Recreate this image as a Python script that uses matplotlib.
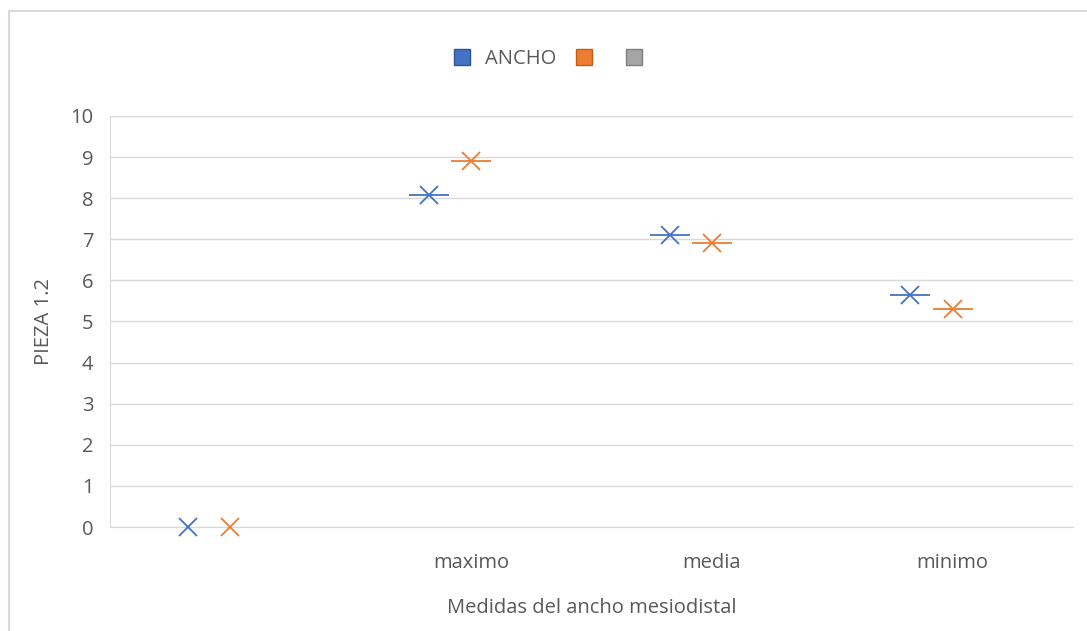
import numpy as np
import matplotlib
matplotlib.use("Agg")
import matplotlib.pyplot as plt
from matplotlib.patches import Patch, Rectangle

plt.rcParams['font.family'] = ['Open Sans', 'DejaVu Sans']

# ---- Data ----
categories = ["", "maximo", "media", "minimo"]
series_names = ["ANCHO", "", ""]
ancho = [0.0, 8.08, 7.10, 5.64]
serie2 = [0.0, 8.90, 6.91, 5.30]
serie3 = [np.nan, np.nan, np.nan, np.nan]

colors = ['#4472C4', '#ED7D31', '#A5A5A5']
edges = ['#2F5597', '#C55A11', '#7F7F7F']
offsets = [-0.175, 0.0, 0.175]
TXT = '#595959'
FS = 14.5

fig = plt.figure(figsize=(10.87, 6.31), dpi=100)
ax = fig.add_axes([0.1012, 0.1648, 0.8859, 0.6514])

# outer chart frame (only left/top visible in the crop)
fig.patches.append(Rectangle((9 / 1087, -0.1), 1.2, 1 - 11 / 631 + 0.1,
                             transform=fig.transFigure, fill=False,
                             edgecolor='#d9d9d9', linewidth=1.5))

x = np.arange(len(categories))
for vals, c, off in zip([ancho, serie2, serie3], colors, offsets):
    xs = x + off
    v = np.array(vals, dtype=float)
    ax.plot(xs, v, linestyle='none', marker='x', markersize=13,
            markeredgewidth=1.3, color=c, zorder=3, clip_on=False)
    # the horizontal dash does not show for zero values in the original
    dash = np.where(v > 0, v, np.nan)
    ax.plot(xs, dash, linestyle='none', marker='_', markersize=29,
            markeredgewidth=1.3, color=c, zorder=3, clip_on=False)

ax.set_xlim(-0.5, len(categories) - 0.5)
ax.set_ylim(0, 10)
ax.set_yticks(range(0, 11))
ax.set_xticks(x)
ax.set_xticklabels(categories)
ax.tick_params(axis='both', length=0, colors=TXT, labelsize=FS)
ax.tick_params(axis='x', pad=19)
ax.tick_params(axis='y', pad=12)
ax.grid(axis='y', color='#d9d9d9', linewidth=1)
ax.set_axisbelow(True)
for s in ['top', 'right']:
    ax.spines[s].set_visible(False)
ax.spines['left'].set_color('#d9d9d9')
ax.spines['bottom'].set_color('#d9d9d9')

ax.set_ylabel("PIEZA 1.2", color=TXT, fontsize=FS, labelpad=12)
ax.set_xlabel("Medidas del ancho mesiodistal", color=TXT, fontsize=FS, labelpad=18)

handles = [Patch(facecolor=c, edgecolor=e) for c, e in zip(colors, edges)]
fig.legend(handles, series_names, loc='center', bbox_to_anchor=(0.511, 1 - 59 / 631),
           ncol=3, frameon=False, fontsize=FS, labelcolor=TXT,
           handlelength=0.8, handleheight=0.8, handletextpad=0.7,
           columnspacing=1.0)

fig.savefig("out.png", dpi=100, facecolor='white')
